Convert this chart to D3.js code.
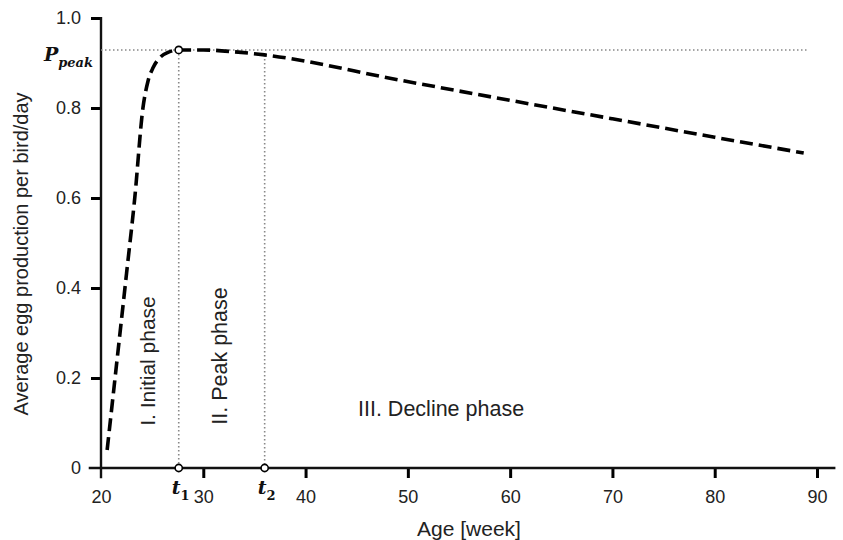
<!DOCTYPE html>
<html>
<head>
<meta charset="utf-8">
<script src="https://cdn.jsdelivr.net/npm/d3@7"></script>
<style>
  body { margin: 0; background: #fff; }
  svg { font-family: "Liberation Sans", Arial, sans-serif; }
</style>
</head>
<body>
<div id="chart"></div>
<script>
// data
const weeks  = [20.6, 21.5, 22.5, 23.3, 24.1, 24.6, 25.1, 25.8, 26.6, 27.6, 30, 33, 36, 49.2, 60, 70, 80, 88.7];
const output = [0.04, 0.226, 0.433, 0.6, 0.8, 0.86, 0.89, 0.913, 0.924, 0.929, 0.929, 0.925, 0.918, 0.862, 0.817, 0.776, 0.735, 0.70];
const xTicks = [20, 30, 40, 50, 60, 70, 80, 90];
const yTicks = [0, 0.2, 0.4, 0.6, 0.8, 1.0];
const yTickLabels = ["0", "0.2", "0.4", "0.6", "0.8", "1.0"];
const pPeak = 0.929;
const t1 = 27.6, t2 = 36.0;
const phases = ["I. Initial phase", "II. Peak phase", "III. Decline phase"];

const W = 843, H = 540;
const svg = d3.select("#chart").append("svg")
    .attr("width", W).attr("height", H);

const x = d3.scaleLinear().domain([20, 90]).range([101, 817]);
const y = d3.scaleLinear().domain([0, 1]).range([468, 18]);

// axes
const xAxis = svg.append("g").attr("class", "axis_x")
    .attr("transform", `translate(0, ${y(0)})`)
    .call(d3.axisBottom(x).tickValues(xTicks).tickSize(10).tickPadding(12).tickFormat(d3.format("d")));
xAxis.select(".domain").remove();
xAxis.selectAll(".tick line").attr("stroke-width", 3);
xAxis.selectAll(".tick").filter(d => d === 20).select("line").remove();
xAxis.selectAll("text").style("font-size", "18px").attr("fill", "#222");

const yAxis = svg.append("g").attr("class", "axis_y")
    .attr("transform", `translate(${x(20)}, 0)`)
    .call(d3.axisLeft(y).tickValues(yTicks).tickSize(10).tickPadding(10)
        .tickFormat((d, i) => yTickLabels[i]));
yAxis.select(".domain").remove();
yAxis.selectAll(".tick line").attr("stroke-width", 3);
yAxis.selectAll(".tick").filter(d => d === 0).select("line").remove();
yAxis.selectAll("text").style("font-size", "18px").attr("fill", "#222");

// axis lines, the ends stick out past each other
svg.append("line")
    .attr("x1", x(18.8)).attr("x2", x(91.8))
    .attr("y1", y(0)).attr("y2", y(0))
    .attr("stroke", "#111").attr("stroke-width", 2.4);
svg.append("line")
    .attr("x1", x(20)).attr("x2", x(20))
    .attr("y1", y(1.0) - 1).attr("y2", y(-0.023))
    .attr("stroke", "#111").attr("stroke-width", 2.4);

// guide lines
const guides = svg.append("g").attr("class", "guides")
    .attr("stroke", "#888").attr("stroke-width", 1.6).attr("stroke-dasharray", "1.5,2.5");
guides.append("line")
    .attr("x1", x(20)).attr("x2", x(89))
    .attr("y1", y(pPeak)).attr("y2", y(pPeak));
guides.append("line")
    .attr("x1", x(t1)).attr("x2", x(t1))
    .attr("y1", y(pPeak)).attr("y2", y(0));
guides.append("line")
    .attr("x1", x(t2)).attr("x2", x(t2))
    .attr("y1", y(0.918)).attr("y2", y(0));

// curve
const line = d3.line()
    .x((d, i) => x(weeks[i]))
    .y(d => y(d))
    .curve(d3.curveMonotoneX);
svg.append("path")
    .datum(output)
    .attr("d", line)
    .attr("fill", "none")
    .attr("stroke", "#000")
    .attr("stroke-width", 3.6)
    .attr("stroke-dasharray", "13,6");

// markers
const marks = [[t1, 0], [t2, 0], [t1, pPeak]];
svg.append("g").selectAll("circle").data(marks).join("circle")
    .attr("cx", d => x(d[0])).attr("cy", d => y(d[1]))
    .attr("r", 3.6)
    .attr("fill", "#fff").attr("stroke", "#000").attr("stroke-width", 1.6);

// math labels
const mathFont = "'DejaVu Serif', 'Liberation Serif', serif";
function mathLabel(px, py, main, sub, anchor) {
    const t = svg.append("text")
        .attr("x", px).attr("y", py)
        .attr("text-anchor", anchor)
        .style("font-family", mathFont)
        .style("font-weight", "bold")
        .attr("fill", "#111");
    t.append("tspan").text(main).style("font-style", "italic").style("font-size", "19px");
    t.append("tspan").text(sub).attr("dy", 6)
        .style("font-style", /\d/.test(sub) ? "normal" : "italic")
        .style("font-size", "13px");
}
mathLabel(93, y(pPeak) + 11, "P", "peak", "end");
mathLabel(x(t1) + 2, 494, "t", "1", "middle");
mathLabel(x(t2) + 2, 494, "t", "2", "middle");

// phase labels
svg.append("text")
    .attr("transform", `translate(155, 361) rotate(-90)`)
    .attr("text-anchor", "middle")
    .style("font-size", "21px").attr("fill", "#222")
    .text(phases[0]);
svg.append("text")
    .attr("transform", `translate(227, 356) rotate(-90)`)
    .attr("text-anchor", "middle")
    .style("font-size", "21.5px").attr("fill", "#222")
    .text(phases[1]);
svg.append("text")
    .attr("x", 358).attr("y", 416)
    .style("font-size", "21.5px").attr("fill", "#222")
    .text(phases[2]);

// axis titles
svg.append("text")
    .attr("transform", `translate(28, 254) rotate(-90)`)
    .attr("text-anchor", "middle")
    .style("font-size", "20px").attr("fill", "#222")
    .text("Average egg production per bird/day");
svg.append("text")
    .attr("x", 469).attr("y", 536)
    .attr("text-anchor", "middle")
    .style("font-size", "21px").attr("fill", "#222")
    .text("Age [week]");
</script>
</body>
</html>
